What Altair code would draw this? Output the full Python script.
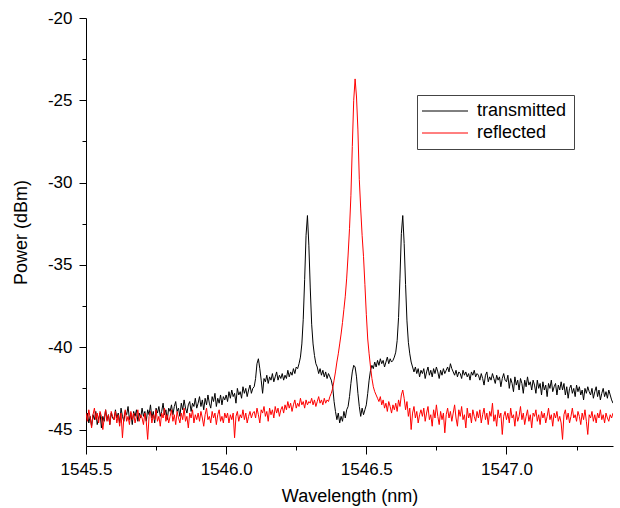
import altair as alt
import pandas as pd

# Sampling grid of the spectrum analyser
WL_START = 1545.5
WL_STEP = 0.005

transmitted = [
    -44.5, -44.0, -44.6, -44.2, -44.8, -44.1, -44.4, -43.9, -44.7, -44.3, -44.0, -44.9, -44.2, -44.5, -43.8, -44.4, -44.1, -44.7, -44.0, -44.3,
    -44.4, -43.8, -44.3, -44.0, -44.6, -43.7, -44.2, -44.5, -43.9, -44.1, -43.6, -44.4, -44.0, -44.7, -43.9, -44.2, -43.8, -44.5, -44.0, -44.3,
    -43.7, -44.2, -43.9, -44.5, -43.8, -44.1, -43.5, -44.3, -43.9, -44.6, -43.7, -44.0, -43.6, -44.2, -43.9, -43.4, -44.1, -43.8, -44.4, -43.7,
    -43.9, -43.5, -44.1, -43.6, -43.3, -43.9, -43.7, -44.2, -43.4, -43.8, -43.2, -43.7, -44.0, -43.5, -43.3, -43.9, -43.4, -43.6, -43.1, -43.7,
    -43.4, -43.0, -43.6, -43.2, -43.8, -43.1, -43.5, -42.9, -43.4, -43.7, -43.0, -43.3, -42.8, -43.6, -43.1, -43.4, -42.9, -43.5, -43.0, -43.2,
    -42.9, -43.3, -42.7, -43.1, -42.6, -43.0, -42.8, -43.4, -42.5, -42.9, -42.7, -43.1, -42.4, -42.8, -42.5, -43.0, -42.6, -42.3, -42.8, -42.5,
    -42.4, -41.9, -41.0, -40.7, -41.3, -42.0, -42.8, -41.9, -42.1, -41.7, -42.2, -41.8, -42.0, -41.6, -42.1, -41.8, -41.5, -42.0, -41.7, -41.9,
    -41.6, -42.0, -41.7, -41.9, -41.4, -41.8, -41.5, -41.7, -41.3, -41.6, -41.2, -41.3, -41.0, -40.6, -39.8, -38.3, -35.9, -33.2, -32.0, -33.8,
    -36.4, -38.6, -39.8, -40.5, -41.0, -41.2, -41.6, -41.3, -41.7, -41.4, -41.8, -41.5, -41.9, -41.6, -41.8, -42.0, -42.4, -43.3, -43.9, -44.4,
    -44.0, -44.6, -44.2, -44.5, -43.9, -44.3, -43.8, -43.6, -43.0, -42.2, -41.5, -41.1, -41.2, -41.8, -42.8, -43.6, -44.2, -43.7, -44.1, -43.8,
    -43.5, -42.8, -42.0, -41.4, -41.1, -41.3, -40.9, -41.2, -40.8, -41.1, -40.7, -41.0, -40.8, -41.2, -40.9, -40.6, -41.0, -40.7, -40.9, -40.8,
    -40.6, -40.3, -39.6, -38.2, -35.8, -33.1, -32.0, -33.7, -36.2, -38.4, -39.7, -40.4, -40.9, -41.2, -41.5, -41.2, -41.6, -41.3, -41.8, -41.4,
    -41.6, -41.3, -41.9, -41.5, -41.2, -41.7, -41.4, -41.8, -41.3, -41.6, -41.2, -41.5, -41.9, -41.4, -41.7, -41.3, -41.6, -41.4, -41.2, -41.5,
    -41.0, -41.3, -41.5, -41.7, -41.4, -41.8, -41.5, -41.6, -41.9, -41.4, -41.7, -41.5, -41.8, -41.6, -42.0, -41.5, -41.7, -41.4, -41.8, -41.6,
    -41.7, -42.0, -41.6, -41.9, -42.3, -41.7, -41.5, -42.1, -41.8, -42.0, -41.6, -41.9, -42.2, -41.7, -42.0, -41.8, -42.4, -41.9, -41.6, -42.0,
    -42.1, -41.7, -42.5, -41.9, -42.2, -42.7, -41.8, -42.3, -42.0, -42.6, -41.9, -42.2, -42.8, -42.0, -42.4, -41.8, -42.3, -42.1, -42.6, -42.0,
    -42.3, -42.8, -42.0, -42.5, -42.2, -42.9, -42.1, -42.6, -42.3, -43.0, -42.2, -42.5, -42.0, -42.7, -42.4, -42.2, -42.9, -42.3, -42.6, -42.1,
    -42.6, -42.2, -42.9, -42.4, -43.1, -42.5, -42.3, -42.8, -42.5, -43.0, -42.3, -42.7, -42.4, -42.9, -42.6, -43.2, -42.5, -42.8, -42.4, -42.7,
    -42.9, -42.5, -43.1, -42.7, -42.4, -43.0, -42.6, -43.2, -42.8, -42.5, -43.0, -42.7, -43.1, -42.6, -42.9, -43.2, -43.4,
]

reflected = [
    -44.0, -44.5, -43.8, -44.3, -44.9, -44.1, -43.7, -44.4, -44.0, -44.6, -43.9, -44.2, -45.0, -44.3, -43.8, -44.5, -44.1, -44.7, -43.9, -44.2,
    -44.4, -43.9, -44.6, -44.1, -44.8, -44.0, -45.5, -44.3, -43.8, -44.5, -44.2, -44.7, -43.9, -44.4, -44.0, -44.6, -44.2, -43.8, -44.5, -44.1,
    -44.3, -44.7, -44.0, -44.5, -45.6, -44.2, -43.9, -44.6, -44.1, -44.4, -43.8, -44.5, -44.2, -44.8, -44.0, -44.3, -43.7, -44.5, -44.1, -44.6,
    -44.2, -43.8, -44.5, -44.1, -44.7, -43.9, -44.3, -44.6, -44.0, -44.4, -43.7, -44.5, -44.2, -44.9, -44.0, -44.3, -43.8, -44.6, -44.1, -44.4,
    -44.0, -44.5, -43.9, -44.3, -44.8, -44.1, -43.7, -44.4, -44.2, -44.6, -43.9, -44.3, -44.0, -44.7, -44.1, -43.8, -44.5, -44.2, -44.6, -44.0,
    -44.3, -44.0, -44.6, -44.1, -44.4, -44.0, -45.5, -44.2, -43.9, -44.5, -44.1, -44.3, -43.8, -44.4, -44.0, -44.6, -44.2, -43.9, -44.3, -44.0,
    -43.9, -44.3, -43.7, -44.1, -44.6, -43.8, -44.0, -43.6, -44.2, -43.9, -44.5, -43.7, -44.1, -43.8, -44.3, -43.6, -44.0, -43.7, -44.2, -43.8,
    -43.6, -44.0, -43.5, -43.8, -43.3, -43.7, -43.4, -43.9, -43.5, -43.2, -43.7, -43.4, -43.6, -43.1, -43.5, -43.3, -43.7, -43.2, -43.5, -43.3,
    -43.4, -43.1, -43.5, -43.2, -43.6, -43.3, -43.0, -43.4, -43.2, -43.5, -43.1, -43.4, -43.2, -43.3, -43.0, -42.8, -42.5, -42.0, -41.5, -40.9,
    -40.4, -39.8, -39.2, -38.5, -37.7, -36.9, -35.8, -34.4, -32.8, -30.8, -27.8, -25.0, -23.7, -24.8, -26.8, -29.8, -31.6, -33.2, -34.5, -36.2,
    -38.0, -39.5, -40.4, -41.2, -41.9, -42.4, -42.7, -42.9, -43.1, -43.3, -43.0, -43.5, -43.2, -43.7, -43.4, -43.9, -43.3, -43.6, -44.0, -43.5,
    -43.8, -43.4, -43.9, -43.2, -43.6, -42.9, -42.6, -43.1, -43.8, -43.3, -44.2, -43.7, -45.0, -44.0, -43.6, -44.3, -43.9, -44.6, -44.1, -43.8,
    -44.2, -43.7, -44.5, -44.0, -43.6, -44.4, -44.1, -44.8, -43.8, -44.3, -43.5, -44.2, -44.7, -43.9, -44.4, -44.0, -45.2, -44.1, -43.7, -44.3,
    -43.9, -44.5, -44.0, -43.5, -44.3, -44.8, -43.8, -44.2, -43.6, -44.4, -44.1, -44.9, -43.7, -44.3, -44.0, -44.6, -43.8, -44.2, -44.5, -43.9,
    -44.3, -43.8, -44.6, -44.1, -43.7, -44.4, -44.0, -44.7, -43.9, -44.2, -43.4, -44.5, -44.1, -44.8, -43.8, -44.3, -44.0, -45.3, -44.2, -43.9,
    -44.4, -44.0, -44.6, -43.7, -44.3, -44.1, -44.8, -43.9, -44.5, -44.2, -43.6, -44.4, -44.0, -44.7, -44.2, -43.8, -44.5, -44.1, -44.9, -44.0,
    -44.2, -43.8, -44.5, -44.1, -44.7, -43.9, -44.3, -44.0, -44.6, -44.2, -43.7, -44.4, -44.1, -44.8, -44.0, -44.3, -43.9, -44.5, -44.2, -44.6,
    -45.6, -44.1, -43.8, -44.4, -44.0, -44.6, -44.2, -43.7, -44.3, -44.1, -44.5, -43.9, -44.2, -44.7, -44.0, -44.4, -43.8, -44.5, -45.3, -44.1,
    -44.3, -43.9, -44.5, -44.1, -44.6, -44.0, -44.3, -43.8, -44.4, -44.1, -44.6, -44.0, -44.3, -44.5, -44.1, -44.3, -44.0,
]

series_names = ["transmitted", "reflected"]
series_colors = ["#000000", "#ff0000"]

x_domain = [1545.5, 1547.38]
y_domain = [-46, -20]
x_ticks = [1545.5, 1545.75, 1546.0, 1546.25, 1546.5, 1546.75, 1547.0, 1547.25]
y_ticks = [-45, -42.5, -40, -37.5, -35, -32.5, -30, -27.5, -25, -22.5, -20]


def frame(vals, name):
    return pd.DataFrame({
        "wl": [round(WL_START + i * WL_STEP, 3) for i in range(len(vals))],
        "p": vals,
        "s": name,
    })


df_t = frame(transmitted, series_names[0])
df_r = frame(reflected, series_names[1])

FONT = "Liberation Sans"

x_enc = alt.X(
    "wl:Q",
    scale=alt.Scale(domain=x_domain, nice=False, zero=False),
    axis=alt.Axis(
        values=x_ticks,
        title="Wavelength (nm)",
        labelExpr="datum.value % 0.5 === 0 ? format(datum.value, '.1f') : ''",
        tickSize={"condition": {"test": "datum.value % 0.5 === 0", "value": 8}, "value": 4},
        labelOverlap=False,
        labelFlush=False,
        labelPadding=7,
        titlePadding=10,
    ),
)
y_enc = alt.Y(
    "p:Q",
    scale=alt.Scale(domain=y_domain, nice=False, zero=False),
    axis=alt.Axis(
        values=y_ticks,
        title="Power (dBm)",
        labelExpr="datum.value % 5 === 0 ? '' + datum.value : ''",
        tickSize={"condition": {"test": "datum.value % 5 === 0", "value": 7}, "value": 4},
        labelOverlap=False,
        labelFlush=False,
        labelPadding=7,
        titlePadding=17,
    ),
)
color_enc = alt.Color(
    "s:N",
    scale=alt.Scale(domain=series_names, range=series_colors),
    legend=alt.Legend(
        orient="none",
        legendX=331,
        legendY=77,
        title=None,
        symbolType="M-4.6,0H4.6",
        symbolSize=100,
        symbolStrokeWidth=1,
        symbolOffset=12,
        labelOffset=23,
        labelFontSize=18,
        labelFont=FONT,
        labelColor="#000000",
        padding=7,
        rowPadding=4,
        strokeColor="#444444",
        fillColor="#ffffff",
    ),
)

line_t = alt.Chart(df_t).mark_line(strokeWidth=1, clip=True).encode(x=x_enc, y=y_enc, color=color_enc)
line_r = alt.Chart(df_r).mark_line(strokeWidth=1, clip=True).encode(x=x_enc, y=y_enc, color=color_enc)

chart = (
    alt.layer(line_t, line_r)
    .properties(
        width=527,
        height=428,
        autosize=alt.AutoSizeParams(type="none"),
        padding={"left": 86, "top": 18, "right": 7, "bottom": 62},
        background="#ffffff",
    )
    .configure_view(stroke=None)
    .configure_axis(
        grid=False,
        domainColor="#000000",
        domainWidth=1,
        tickColor="#000000",
        tickWidth=1,
        labelColor="#000000",
        titleColor="#000000",
        labelFont=FONT,
        titleFont=FONT,
        labelFontSize=17,
        titleFontSize=18,
        titleFontWeight="normal",
    )
)

chart.save("out.html", embed_options={"renderer": "svg", "actions": False})
